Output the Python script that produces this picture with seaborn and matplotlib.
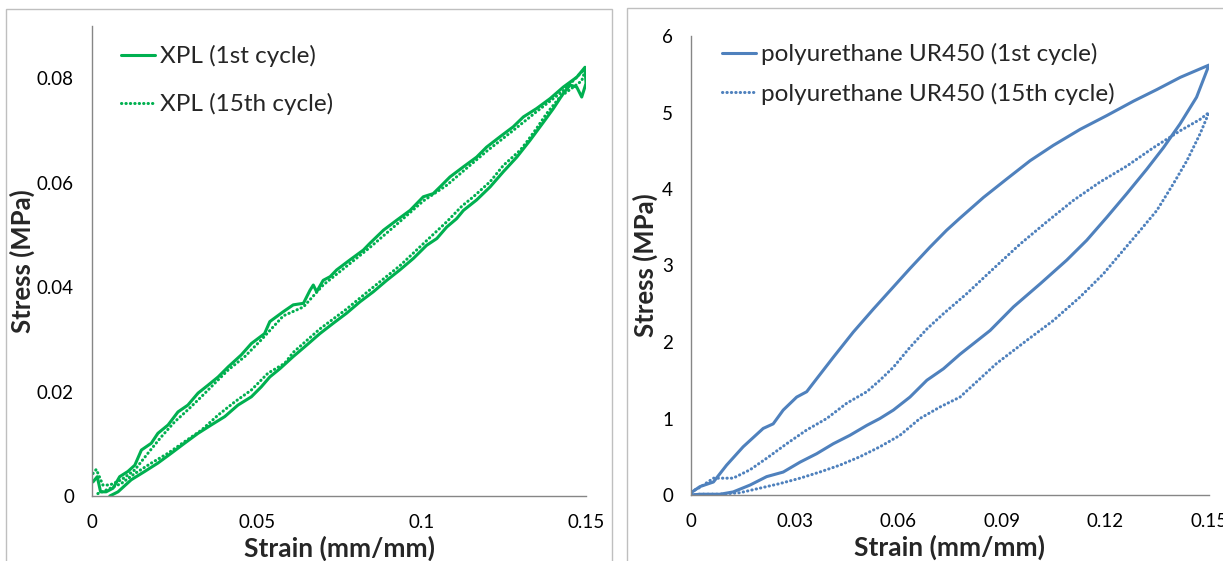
import matplotlib
matplotlib.use("Agg")
import matplotlib.pyplot as plt
from matplotlib.lines import Line2D
from matplotlib.patches import Rectangle
import pandas as pd
import seaborn as sns

# ---- data (strain mm/mm, stress MPa) ----
# XPL, 1st cycle: loading then unloading
xpl_c1_strain = [0.0003, 0.0016, 0.0026, 0.0043, 0.0064, 0.0084, 0.0109, 0.013, 0.015, 0.018,
                 0.020, 0.0231, 0.0261, 0.0291, 0.0322, 0.0352, 0.0383, 0.0413, 0.0453, 0.0484,
                 0.0524, 0.054, 0.0581, 0.0611, 0.0642, 0.0662, 0.0672, 0.0682, 0.0702, 0.0723,
                 0.0743, 0.0783, 0.0824, 0.0844, 0.0885, 0.0925, 0.0966, 0.1006, 0.1036, 0.1057,
                 0.1087, 0.1127, 0.1168, 0.1198, 0.1239, 0.1279, 0.131, 0.135, 0.1391, 0.1431,
                 0.1472, 0.1497,
                 0.15, 0.1487, 0.1472, 0.1452, 0.1431, 0.1401, 0.1371, 0.133, 0.129, 0.1249,
                 0.1209, 0.1168, 0.1128, 0.1107, 0.1077, 0.1047, 0.1016, 0.0976, 0.0935, 0.0895,
                 0.0854, 0.0814, 0.0773, 0.0733, 0.0692, 0.0652, 0.0611, 0.0571, 0.054, 0.0514,
                 0.0484, 0.0443, 0.0403, 0.0362, 0.0322, 0.0281, 0.0241, 0.020, 0.016, 0.0119,
                 0.0079, 0.0054]
xpl_c1_stress = [0.0027, 0.0037, 0.0008, 0.0008, 0.0015, 0.0037, 0.0047, 0.0059, 0.0088, 0.0101,
                 0.0120, 0.0136, 0.0161, 0.0174, 0.0197, 0.0212, 0.0228, 0.0247, 0.0270, 0.0292,
                 0.0311, 0.0334, 0.0353, 0.0366, 0.0369, 0.0394, 0.0404, 0.0391, 0.0413, 0.0420,
                 0.0433, 0.0452, 0.0471, 0.0484, 0.0509, 0.0528, 0.0547, 0.0573, 0.0579, 0.0592,
                 0.0611, 0.0630, 0.0649, 0.0668, 0.0688, 0.0707, 0.0726, 0.0742, 0.0761, 0.0783,
                 0.0802, 0.0821,
                 0.0790, 0.0764, 0.0783, 0.0787, 0.0771, 0.0742, 0.0716, 0.0681, 0.0649, 0.0621,
                 0.0592, 0.0567, 0.0547, 0.0531, 0.0515, 0.0493, 0.0480, 0.0455, 0.0433, 0.0413,
                 0.0391, 0.0372, 0.0350, 0.0331, 0.0311, 0.0289, 0.0267, 0.0244, 0.0228, 0.0209,
                 0.0190, 0.0174, 0.0152, 0.0136, 0.0120, 0.0101, 0.0082, 0.0063, 0.0047, 0.0031,
                 0.0008, 0.0]

# XPL, 15th cycle
xpl_c15_strain = [0.0003, 0.0013, 0.0033, 0.0054, 0.0089, 0.013, 0.017, 0.021, 0.0251, 0.0291,
                  0.0332, 0.0373, 0.0413, 0.0464, 0.0514, 0.0581, 0.0642, 0.0702, 0.0783, 0.0844,
                  0.0925, 0.1006, 0.1077, 0.1127, 0.1198, 0.1279, 0.135, 0.1431, 0.15,
                  0.1487, 0.1421, 0.138, 0.135, 0.132, 0.13, 0.1249, 0.1209, 0.1158, 0.1123,
                  0.1077, 0.1016, 0.0935, 0.0854, 0.0773, 0.0692, 0.0611, 0.0585, 0.0534, 0.0484,
                  0.0433, 0.0383, 0.0332, 0.0281, 0.0231, 0.018, 0.013, 0.0089, 0.0049, 0.0008]
xpl_c15_stress = [0.0043, 0.0051, 0.0021, 0.0021, 0.0031, 0.0050, 0.0082, 0.0113, 0.0142, 0.0165,
                  0.0190, 0.0216, 0.0241, 0.0267, 0.0299, 0.0345, 0.0362, 0.0404, 0.0445, 0.0476,
                  0.0520, 0.0565, 0.0595, 0.0622, 0.0660, 0.0700, 0.0736, 0.0776, 0.0820,
                  0.0795, 0.0764, 0.0732, 0.0704, 0.0678, 0.0662, 0.0633, 0.0602, 0.0573, 0.0555,
                  0.0525, 0.0489, 0.0441, 0.0400, 0.0358, 0.0320, 0.0275, 0.0254, 0.0235, 0.0203,
                  0.0180, 0.0155, 0.0126, 0.0104, 0.0082, 0.0063, 0.0043, 0.0024, 0.0013, 0.0002]

# polyurethane UR450, 1st cycle
pu_c1_strain = [0, 0.0026, 0.0065, 0.0103, 0.0151, 0.0209, 0.0238, 0.0267, 0.0306, 0.0335,
                0.0364, 0.0412, 0.047, 0.0528, 0.0586, 0.0634, 0.0692, 0.074, 0.0779, 0.0847,
                0.0914, 0.0982, 0.1049, 0.1127, 0.1204, 0.1282, 0.1349, 0.1417, 0.15,
                0.1464, 0.1416, 0.1368, 0.132, 0.1262, 0.1204, 0.1146, 0.1088, 0.1011, 0.0934,
                0.0866, 0.0779, 0.0731, 0.0683, 0.0634, 0.0586, 0.0547, 0.0509, 0.046, 0.0412,
                0.0364, 0.0316, 0.0267, 0.0219, 0.0171, 0.0122, 0.0084, 0.0026, 0]
pu_c1_stress = [0.03, 0.11, 0.17, 0.39, 0.63, 0.87, 0.93, 1.11, 1.28, 1.35,
                1.52, 1.80, 2.13, 2.43, 2.72, 2.96, 3.24, 3.46, 3.62, 3.89,
                4.13, 4.37, 4.57, 4.78, 4.96, 5.15, 5.30, 5.46, 5.62,
                5.20, 4.85, 4.54, 4.26, 3.94, 3.63, 3.33, 3.07, 2.76, 2.46,
                2.15, 1.84, 1.65, 1.50, 1.28, 1.11, 1.00, 0.91, 0.78, 0.67,
                0.54, 0.43, 0.30, 0.24, 0.13, 0.04, 0.01, 0.01, 0.0]

# polyurethane UR450, 15th cycle
pu_c15_strain = [0, 0.0026, 0.0065, 0.0122, 0.0171, 0.0219, 0.0277, 0.0335, 0.0393, 0.0451,
                 0.0509, 0.0547, 0.0586, 0.0634, 0.0683, 0.0731, 0.0798, 0.0876, 0.0953, 0.103,
                 0.1107, 0.1184, 0.1262, 0.1339, 0.1416, 0.1474, 0.15,
                 0.1474, 0.1436, 0.1397, 0.1349, 0.1301, 0.1252, 0.1194, 0.1127, 0.1049, 0.0972,
                 0.0885, 0.0779, 0.0721, 0.0663, 0.0605, 0.0547, 0.0489, 0.0431, 0.0373, 0.0316,
                 0.0258, 0.020, 0.0142, 0.0084, 0.0026, 0]
pu_c15_stress = [0.04, 0.10, 0.22, 0.22, 0.33, 0.48, 0.67, 0.85, 1.00, 1.20,
                 1.35, 1.50, 1.67, 1.93, 2.17, 2.37, 2.63, 2.96, 3.28, 3.57,
                 3.85, 4.09, 4.30, 4.54, 4.76, 4.91, 5.00,
                 4.72, 4.37, 4.07, 3.72, 3.46, 3.20, 2.89, 2.59, 2.28, 2.02,
                 1.72, 1.28, 1.15, 1.00, 0.78, 0.63, 0.50, 0.39, 0.30, 0.22,
                 0.15, 0.09, 0.03, 0.01, 0.01, 0.0]

xpl_labels = ["XPL (1st cycle)", "XPL (15th cycle)"]
pu_labels = ["polyurethane UR450 (1st cycle)", "polyurethane UR450 (15th cycle)"]

xpl_xticks = [0, 0.05, 0.1, 0.15]
xpl_xticklabels = ["0", "0.05", "0.1", "0.15"]
xpl_yticks = [0, 0.02, 0.04, 0.06, 0.08]
xpl_yticklabels = ["0", "0.02", "0.04", "0.06", "0.08"]
pu_xticks = [0, 0.03, 0.06, 0.09, 0.12, 0.15]
pu_xticklabels = ["0", "0.03", "0.06", "0.09", "0.12", "0.15"]
pu_yticks = [0, 1, 2, 3, 4, 5, 6]
pu_yticklabels = ["0", "1", "2", "3", "4", "5", "6"]

# ---- style ----
sns.set_style("white")
plt.rcParams["font.family"] = ["Lato", "DejaVu Sans"]

GREEN = "#00B050"
BLUE = "#4F81BD"
AXIS_GRAY = "#868686"
BORDER_GRAY = "#BFBFBF"
LW = 2.2
DOTS = (0, (0.1, 1.35))

W, H = 1223, 561
fig = plt.figure(figsize=(W / 100, H / 100), dpi=100)

# chart-area borders (Excel style), running past the bottom edge
fig.patches.append(Rectangle((6 / W, -0.1), (612 - 6) / W, 1.1 - 9 / H, transform=fig.transFigure,
                             fill=False, edgecolor=BORDER_GRAY, linewidth=1.0))
fig.patches.append(Rectangle((627 / W, -0.1), 0.6, 1.1 - 8 / H, transform=fig.transFigure,
                             fill=False, edgecolor=BORDER_GRAY, linewidth=1.0))


def px_axes(x0, x1, ytop, ybot):
    return fig.add_axes([x0 / W, 1 - ybot / H, (x1 - x0) / W, (ybot - ytop) / H])


ax1 = px_axes(92, 586, 26, 496)
ax2 = px_axes(691, 1209, 36, 495)


def draw(ax, x, y, color, ls):
    df = pd.DataFrame({"strain": x, "stress": y})
    sns.lineplot(data=df, x="strain", y="stress", sort=False, estimator=None, ax=ax,
                 color=color, linewidth=LW, linestyle=ls, dash_capstyle="round",
                 solid_capstyle="round", solid_joinstyle="round")


draw(ax1, xpl_c1_strain, xpl_c1_stress, GREEN, "-")
draw(ax1, xpl_c15_strain, xpl_c15_stress, GREEN, DOTS)
draw(ax2, pu_c1_strain, pu_c1_stress, BLUE, "-")
draw(ax2, pu_c15_strain, pu_c15_stress, BLUE, DOTS)


def style_axes(ax, xt, xtl, yt, ytl, ylim, ylab_x, xlab_y):
    ax.set_xlim(0, 0.15)
    ax.set_ylim(*ylim)
    ax.set_xticks(xt)
    ax.set_xticklabels(xtl)
    ax.set_yticks(yt)
    ax.set_yticklabels(ytl)
    for s in ["top", "right"]:
        ax.spines[s].set_visible(False)
    for s in ["left", "bottom"]:
        ax.spines[s].set_color(AXIS_GRAY)
        ax.spines[s].set_linewidth(1.0)
    ax.tick_params(axis="both", direction="out", length=4.5, width=1.0, color=AXIS_GRAY,
                   labelsize=13.5, labelcolor="black", pad=8.5)
    ax.set_xlabel("Strain (mm/mm)", fontsize=19, fontweight="bold")
    ax.set_ylabel("Stress (MPa)", fontsize=18.5, fontweight="bold")
    ax.xaxis.set_label_coords(0.5, xlab_y)
    ax.xaxis.label.set_va("center")
    ax.yaxis.set_label_coords(ylab_x, 0.5)
    ax.yaxis.label.set_va("center")
    ax.patch.set_alpha(0)


style_axes(ax1, xpl_xticks, xpl_xticklabels, xpl_yticks, xpl_yticklabels,
           (0, 0.09), -0.142, -0.111)
style_axes(ax2, pu_xticks, pu_xticklabels, pu_yticks, pu_yticklabels,
           (0, 6), -0.089, -0.115)


def legend(ax, color, labels, x_px, top_px, spacing):
    handles = [Line2D([], [], color=color, linewidth=LW, linestyle="-"),
               Line2D([], [], color=color, linewidth=LW, linestyle=DOTS, dash_capstyle="round")]
    ax.legend(handles, labels, loc="upper left", bbox_to_anchor=(x_px / W, 1 - top_px / H),
              bbox_transform=fig.transFigure, frameon=False, fontsize=17.5, borderpad=0,
              borderaxespad=0, handlelength=1.4, handletextpad=0.2, labelspacing=spacing)


legend(ax1, GREEN, xpl_labels, 121, 45, 1.07)
legend(ax2, BLUE, pu_labels, 722, 43, 0.72)

fig.savefig("out.png", dpi=100)
